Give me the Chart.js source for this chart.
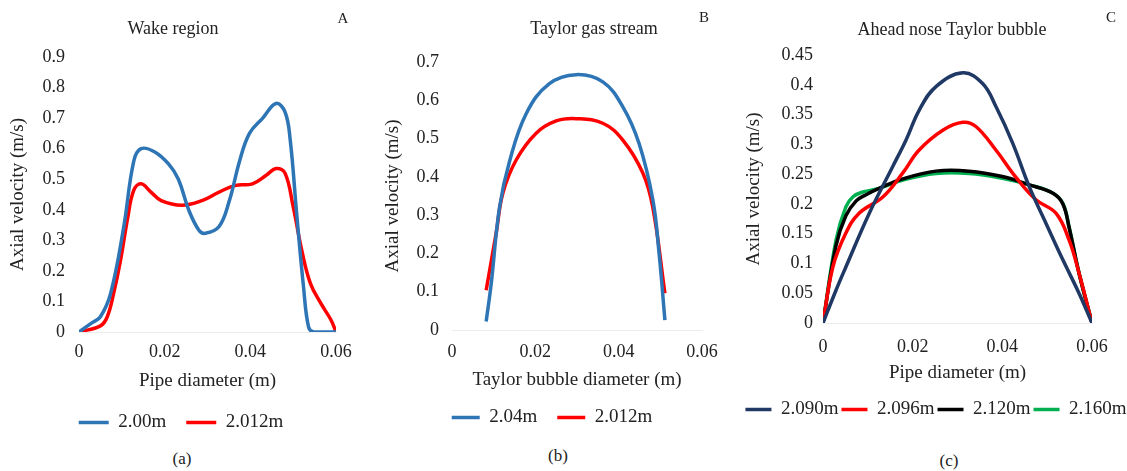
<!DOCTYPE html>
<html>
<head>
<meta charset="utf-8">
<script src="https://cdn.jsdelivr.net/npm/chart.js@4/dist/chart.umd.min.js"></script>
<style>
  html, body { margin: 0; padding: 0; background: #fff; overflow: hidden; }
  body { width: 1127px; height: 471px; position: relative; font-family: "Liberation Serif", "Times New Roman", serif; color: #222; }
  .box { position: absolute; top: 0; }
  .txt { position: absolute; white-space: nowrap; transform: translate(-50%, -50%); }
  .ttl { font-size: 18px; }
  .tag { font-size: 15px; }
  .cap { font-size: 17px; }
</style>
</head>
<body>
<div class="box" id="boxA" style="left:0px;width:362px;height:442px"><canvas id="chartA"></canvas></div>
<div class="box" id="boxB" style="left:382px;width:340px;height:437px"><canvas id="chartB"></canvas></div>
<div class="box" id="boxC" style="left:740px;width:392px;height:429px"><canvas id="chartC"></canvas></div>

<div class="txt ttl" style="left:173px;top:28px">Wake region</div>
<div class="txt ttl" style="left:594px;top:28px">Taylor gas stream</div>
<div class="txt ttl" style="left:952px;top:29px">Ahead nose Taylor bubble</div>
<div class="txt tag" style="left:343px;top:18px">A</div>
<div class="txt tag" style="left:704px;top:17px">B</div>
<div class="txt tag" style="left:1111px;top:17px">C</div>
<div class="txt cap" style="left:182px;top:459px">(a)</div>
<div class="txt cap" style="left:558px;top:456px">(b)</div>
<div class="txt cap" style="left:949px;top:461px">(c)</div>

<script>
// ---- (a) Wake region ----
const wakeX1 = [0, 0.003, 0.005, 0.0074, 0.0104, 0.0128, 0.0145, 0.0176, 0.0209, 0.0232, 0.0256, 0.028, 0.0295, 0.0327, 0.0351, 0.0375, 0.0398, 0.0429, 0.046, 0.0481, 0.0493, 0.0508, 0.0524, 0.0536, 0.0548, 0.06];
const wakeY1 = [0, 0.03, 0.05, 0.127, 0.34, 0.56, 0.6, 0.59, 0.55, 0.5, 0.4, 0.333, 0.323, 0.345, 0.43, 0.56, 0.65, 0.7, 0.748, 0.72, 0.63, 0.39, 0.15, 0.016, 0, 0];
const wakeX2 = [0, 0.005, 0.0066, 0.0081, 0.0097, 0.0114, 0.0128, 0.0145, 0.0168, 0.0192, 0.024, 0.0287, 0.0327, 0.0366, 0.0405, 0.0437, 0.046, 0.0481, 0.05, 0.052, 0.054, 0.0564, 0.0588, 0.06];
const wakeY2 = [0, 0.02, 0.05, 0.127, 0.235, 0.376, 0.464, 0.485, 0.458, 0.43, 0.415, 0.43, 0.458, 0.48, 0.485, 0.513, 0.535, 0.52, 0.41, 0.268, 0.16, 0.095, 0.04, 0];

// ---- (b) Taylor gas stream ----
const gasX1 = [0.0082, 0.0094, 0.0114, 0.0138, 0.0178, 0.0233, 0.0298, 0.0362, 0.041, 0.0449, 0.0482, 0.0497, 0.0511];
const gasY1 = [0.022, 0.12, 0.32, 0.44, 0.565, 0.643, 0.667, 0.648, 0.583, 0.487, 0.34, 0.2, 0.026];
const gasX2 = [0.0082, 0.0106, 0.0122, 0.0154, 0.0202, 0.025, 0.0298, 0.0362, 0.041, 0.0458, 0.0482, 0.0511];
const gasY2 = [0.104, 0.253, 0.357, 0.444, 0.514, 0.546, 0.552, 0.54, 0.496, 0.41, 0.32, 0.096];

// ---- (c) Ahead nose Taylor bubble ----
const noseX1 = [0, 0.0029, 0.0051, 0.0103, 0.0155, 0.0185, 0.0215, 0.0252, 0.0312, 0.0356, 0.0386, 0.0423, 0.046, 0.0497, 0.0535, 0.0571, 0.06];
const noseY1 = [0, 0.055, 0.094, 0.184, 0.262, 0.307, 0.358, 0.397, 0.42, 0.402, 0.363, 0.302, 0.229, 0.168, 0.106, 0.05, 0];
const noseX2 = [0, 0.0022, 0.0051, 0.008, 0.0134, 0.0178, 0.0214, 0.0268, 0.0312, 0.0341, 0.0386, 0.043, 0.0475, 0.052, 0.0549, 0.0571, 0.06];
const noseY2 = [0, 0.094, 0.151, 0.184, 0.212, 0.252, 0.29, 0.324, 0.337, 0.33, 0.29, 0.245, 0.207, 0.184, 0.139, 0.084, 0];
const noseX3 = [0, 0.0029, 0.0051, 0.0074, 0.0095, 0.0125, 0.0178, 0.0252, 0.0326, 0.04, 0.046, 0.0513, 0.0535, 0.0549, 0.0571, 0.06];
const noseY3 = [0, 0.13, 0.18, 0.205, 0.215, 0.226, 0.242, 0.255, 0.255, 0.246, 0.232, 0.218, 0.2, 0.16, 0.084, 0];
const noseX4 = [0, 0.0029, 0.0051, 0.0067, 0.0089, 0.0125, 0.0178, 0.0252, 0.0326, 0.04, 0.046, 0.0513, 0.0535, 0.0549, 0.0571, 0.06];
const noseY4 = [0, 0.139, 0.195, 0.212, 0.22, 0.226, 0.24, 0.251, 0.251, 0.243, 0.232, 0.218, 0.201, 0.161, 0.084, 0];

const xTicks = [0, 0.02, 0.04, 0.06];

const FONT = "'Liberation Serif', 'Times New Roman', serif";
const TEXT = "#222";

function pts(xs, ys) {
  return xs.map((x, i) => ({ x: x, y: ys[i] }));
}

function series(label, xs, ys, color) {
  return {
    label: label,
    data: pts(xs, ys),
    borderColor: color,
    backgroundColor: color,
    borderWidth: 3.5,
    borderJoinStyle: "round",
    pointRadius: 0,
    tension: 0.4,
    fill: false
  };
}

function fmt(v) {
  return String(+v.toFixed(3));
}

// p: layout + sizes for one panel
function makeChart(id, datasets, p) {
  const ctx = document.getElementById(id).getContext("2d");
  return new Chart(ctx, {
    type: "line",
    data: { datasets: datasets },
    options: {
      responsive: true,
      maintainAspectRatio: false,
      animation: false,
      events: [],
      layout: { padding: { top: p.top, left: 0, right: 0, bottom: 0 } },
      plugins: {
        title: { display: false },
        tooltip: { enabled: false },
        legend: {
          position: "bottom",
          labels: {
            usePointStyle: true,
            pointStyle: "line",
            pointStyleWidth: p.boxW,
            padding: p.legPad,
            color: TEXT,
            font: { family: FONT, size: 19 }
          }
        }
      },
      scales: {
        x: {
          type: "linear",
          min: 0,
          max: 0.06,
          afterBuildTicks: (s) => { s.ticks = xTicks.map(v => ({ value: v })); },
          afterFit: (s) => { s.height = p.xH; s.paddingRight = p.padR; s.paddingLeft = 0; },
          grid: { display: false, drawTicks: false },
          border: { display: true, color: "#ececec" },
          ticks: { padding: p.xTickPad, color: TEXT, font: { family: FONT, size: 18 }, callback: fmt },
          title: { display: true, text: p.xTitle, color: TEXT, font: { family: FONT, size: 19 }, padding: { top: 0, bottom: p.xTitlePad } }
        },
        y: {
          min: 0,
          max: p.yMax,
          afterFit: (s) => { s.width = p.yW; },
          grid: { display: false, drawTicks: false },
          border: { display: false },
          ticks: { stepSize: p.yStep, padding: p.yTickPad, color: TEXT, font: { family: FONT, size: 18 }, callback: fmt },
          title: { display: true, text: "Axial velocity (m/s)", color: TEXT, font: { family: FONT, size: 19 }, padding: { top: p.yTitlePad, bottom: 0 } }
        }
      }
    }
  });
}

makeChart("chartA", [
  series("2.00m", wakeX1, wakeY1, "#2E75B6"),
  series("2.012m", wakeX2, wakeY2, "#FF0000")
], { top: 57, yW: 79, padR: 26, xH: 61, xTickPad: 9, xTitlePad: 1, yTickPad: 14, yTitlePad: 6.6,
     yMax: 0.9, yStep: 0.1, boxW: 30, legPad: 20, xTitle: "Pipe diameter (m)" });

makeChart("chartB", [
  series("2.04m", gasX1, gasY1, "#2E75B6"),
  series("2.012m", gasX2, gasY2, "#FF0000")
], { top: 62, yW: 70, padR: 20, xH: 58, xTickPad: 11, xTitlePad: -3.4, yTickPad: 13, yTitlePad: -0.4,
     yMax: 0.7, yStep: 0.1, boxW: 28, legPad: 20, xTitle: "Taylor bubble diameter (m)" });

makeChart("chartC", [
  series("2.090m", noseX1, noseY1, "#1F3864"),
  series("2.096m", noseX2, noseY2, "#FF0000"),
  series("2.120m", noseX3, noseY3, "#000000"),
  series("2.160m", noseX4, noseY4, "#00B050")
], { top: 55, yW: 83, padR: 40, xH: 74, xTickPad: 13, xTitlePad: 12.6, yTickPad: 10, yTitlePad: 2.6,
     yMax: 0.45, yStep: 0.05, boxW: 26, legPad: 3, xTitle: "Pipe diameter (m)" });
</script>
</body>
</html>
